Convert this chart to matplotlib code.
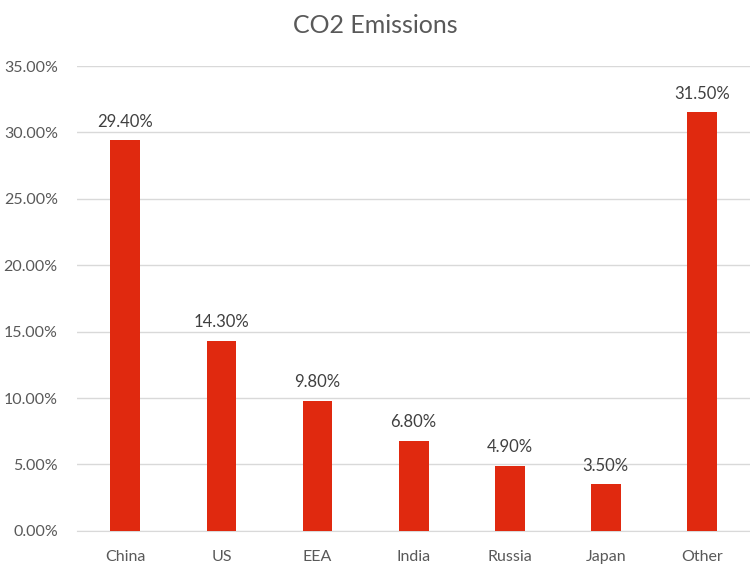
import matplotlib.pyplot as plt
from matplotlib.ticker import FuncFormatter

countries = ['China', 'US', 'EEA', 'India', 'Russia', 'Japan', 'Other']
shares = [29.4, 14.3, 9.8, 6.8, 4.9, 3.5, 31.5]

plt.rcParams['font.family'] = ['Lato', 'DejaVu Sans']
grey = '#595959'

fig = plt.figure(figsize=(7.5, 5.69), dpi=100)
ax = fig.add_axes([0.103, 0.067, 0.897, 0.817])

x = range(len(countries))
bars = ax.bar(x, shares, width=0.31, color='#E0290F', zorder=3)

for xi, v in zip(x, shares):
    ax.text(xi, v + 0.8, '%.2f%%' % v, ha='center', va='bottom',
            fontsize=12, color='#404040')

ax.set_xlim(-0.5, len(countries) - 0.5)
ax.set_ylim(0, 35)
ax.set_yticks([0, 5, 10, 15, 20, 25, 30, 35])
ax.yaxis.set_major_formatter(FuncFormatter(lambda v, p: '%.2f%%' % v))
ax.set_xticks(list(x))
ax.set_xticklabels(countries)
ax.tick_params(axis='both', length=0, labelsize=11.5, colors=grey)
ax.tick_params(axis='x', pad=14)
ax.tick_params(axis='y', pad=14)

ax.grid(axis='y', color='#D9D9D9', linewidth=1, zorder=0)
for s in ['top', 'right', 'left']:
    ax.spines[s].set_visible(False)
ax.spines['bottom'].set_color('#D9D9D9')

fig.text(0.5, 0.956, 'CO2 Emissions', ha='center', va='center',
         fontsize=18, color=grey)

fig.savefig('out.png', dpi=100)
